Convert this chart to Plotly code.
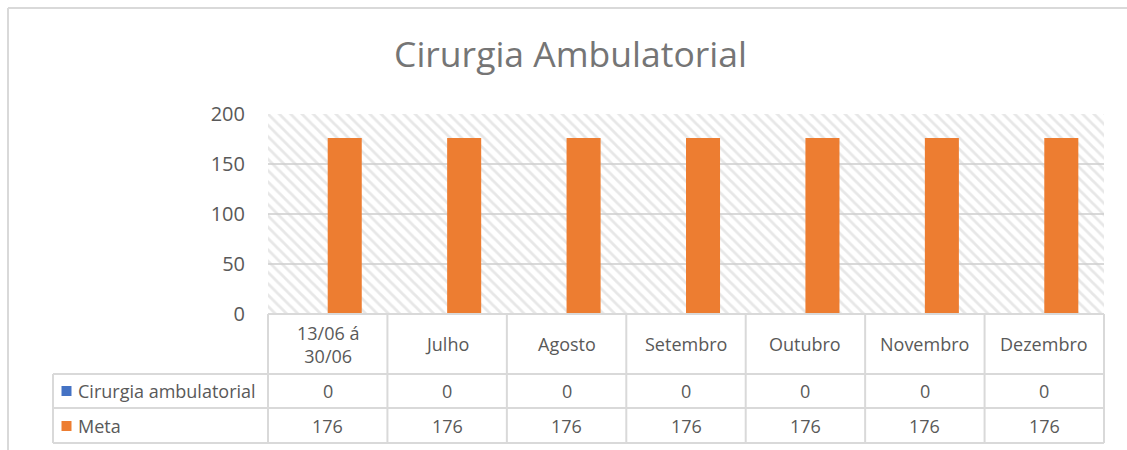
import plotly.graph_objects as go

# ---- data ----
categories = ["13/06 á<br>30/06", "Julho", "Agosto", "Setembro", "Outubro", "Novembro", "Dezembro"]
series_names = ["Cirurgia ambulatorial", "Meta"]
cirurgia_values = [0, 0, 0, 0, 0, 0, 0]
meta_values = [176, 176, 176, 176, 176, 176, 176]
y_ticks = [0, 50, 100, 150, 200]
title_text = "Cirurgia Ambulatorial"

# ---- style ----
FONT = "Open Sans"
TXT = "#595959"
GRID = "#d9d9d9"
BLUE = "#4472C4"
ORANGE = "#ED7D31"
W_FIG, H_FIG = 1127, 450
L, R, T, B = 268, 1104, 114, 314


def px(x):
    return (x - L) / (R - L)


def py(y):
    return (B - y) / (B - T)


fig = go.Figure()

# hatched plot-area background (decoration) on base axes
fig.add_trace(go.Scatter(
    x=[0, 1, 1, 0, 0], y=[0, 0, 1, 1, 0], mode="none", fill="toself",
    fillcolor="rgba(0,0,0,0)",
    fillpattern=dict(shape="\\", fgcolor="#d0d0d0", bgcolor="rgba(0,0,0,0)",
                     size=8, solidity=0.35),
    hoverinfo="skip", showlegend=False, xaxis="x", yaxis="y"))

colors = [BLUE, ORANGE]
for name, vals, col in zip(series_names, [cirurgia_values, meta_values], colors):
    fig.add_trace(go.Bar(x=categories, y=vals, name=name, marker_color=col,
                         marker_line_width=0, xaxis="x2", yaxis="y2"))

shapes = []
line = dict(color=GRID, width=2)
n = len(categories)
# table horizontal lines
shapes.append(dict(type="line", xref="paper", yref="paper", x0=0, x1=1, y0=0, y1=0, line=line))
for yy in [374, 408, 443]:
    shapes.append(dict(type="line", xref="paper", yref="paper", x0=px(53), x1=1,
                       y0=py(yy), y1=py(yy), line=line))
# table vertical lines
for k in range(n + 1):
    shapes.append(dict(type="line", xref="paper", yref="paper", x0=k / n, x1=k / n,
                       y0=0, y1=py(443), line=line))
shapes.append(dict(type="line", xref="paper", yref="paper", x0=px(53), x1=px(53),
                   y0=py(374), y1=py(443), line=line))
# outer chart frame
shapes.append(dict(type="line", xref="paper", yref="paper", x0=px(8), x1=px(1127),
                   y0=py(8), y1=py(8), line=line))
shapes.append(dict(type="line", xref="paper", yref="paper", x0=px(8), x1=px(8),
                   y0=py(8), y1=py(450), line=line))
# legend keys in table
row_y = [391, 426]
for col, yy in zip(colors, row_y):
    shapes.append(dict(type="rect", xref="paper", yref="paper", x0=px(61.5), x1=px(71.5),
                       y0=py(yy - 5), y1=py(yy + 5), fillcolor=col, line_width=0))

annotations = []
tf = dict(family=FONT, size=18, color=TXT)
for i, c in enumerate(categories):
    annotations.append(dict(xref="paper", yref="paper", x=(i + 0.5) / n, y=py(344),
                            text=c, showarrow=False, font=tf, xanchor="center", yanchor="middle"))
    for vals, yy in zip([cirurgia_values, meta_values], row_y):
        annotations.append(dict(xref="paper", yref="paper", x=(i + 0.5) / n, y=py(yy),
                                text=str(vals[i]), showarrow=False, font=tf,
                                xanchor="center", yanchor="middle"))
for name, yy in zip(series_names, row_y):
    annotations.append(dict(xref="paper", yref="paper", x=px(76), y=py(yy), text=name,
                            showarrow=False, font=tf, xanchor="left", yanchor="middle"))

fig.update_layout(
    width=W_FIG, height=H_FIG, autosize=False,
    margin=dict(l=L, r=W_FIG - R, t=T, b=H_FIG - B, pad=0),
    paper_bgcolor="white", plot_bgcolor="white",
    showlegend=False,
    barmode="group", bargap=0.43, bargroupgap=0,
    title=dict(text=title_text, x=570.5 / W_FIG, xanchor="center", xref="container",
               y=1 - 55 / H_FIG, yanchor="middle",
               font=dict(family=FONT, size=35.5, color="#757575")),
    xaxis=dict(range=[0, 1], visible=False, fixedrange=True),
    yaxis=dict(range=[0, 1], visible=False, fixedrange=True),
    xaxis2=dict(overlaying="x", anchor="y2", type="category", showticklabels=False,
                showgrid=False, zeroline=False, showline=False, ticks=""),
    yaxis2=dict(overlaying="y", anchor="x2", side="left", range=[0, 200], tickvals=y_ticks,
                showgrid=True, gridcolor=GRID, gridwidth=2, zeroline=False, showline=False,
                ticks="", ticklabelstandoff=22,
                tickfont=dict(family=FONT, size=20, color=TXT)),
    shapes=shapes, annotations=annotations,
    font=dict(family=FONT, color=TXT),
)

fig.write_html("out.html", config={"displayModeBar": False},
               post_script="document.body.style.margin='0';document.body.style.overflow='hidden';")
